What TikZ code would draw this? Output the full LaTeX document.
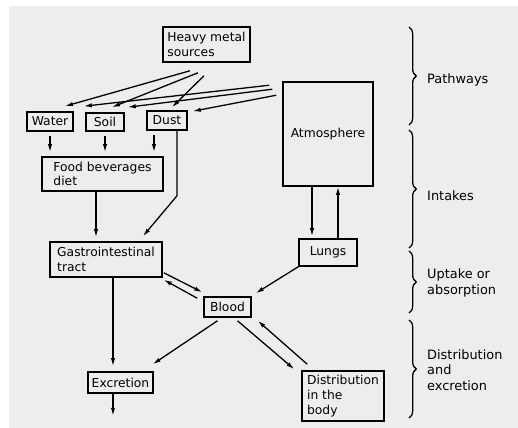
\documentclass[tikz,border=0pt]{standalone}
\usepackage{fontspec}
\setmainfont{DejaVu Sans}
\usetikzlibrary{arrows.meta,calc,decorations.pathreplacing}

\begin{document}
\begin{tikzpicture}[
  x=0.03cm, y=-0.03cm,
  font=\fontsize{10.5}{12.5}\selectfont,
  box/.style={draw, line width=1.3pt, inner sep=2pt, align=left},
  arr/.style={-{Latex[length=2.4mm,width=1.3mm]}, line width=1.1pt},
  gap/.style={shorten <=0.12cm, shorten >=0.12cm},
  brc/.style={decorate, decoration={brace, amplitude=0.22cm}, line width=1.1pt},
  stagelab/.style={anchor=west, align=left, inner sep=0pt, font=\fontsize{11}{13}\selectfont},
]
\useasboundingbox (0,0) rectangle (518,428);
\fill[black!7] (9,6) rectangle (518,428);

% --- Sources and pathways ---
\node[box, minimum width=2.61cm, minimum height=1.05cm] (hms) at (206.5,44.5) {Heavy metal\\sources};
\node[box, minimum width=1.38cm, minimum height=0.57cm] (water) at (50,121.5) {Water};
\node[box, minimum width=1.14cm, minimum height=0.54cm] (soil) at (105,122) {Soil};
\node[box, minimum width=1.2cm, minimum height=0.57cm] (dust) at (167,120.5) {Dust};
\node[box, minimum width=2.7cm, minimum height=3.12cm] (atm) at (328,134) {Atmosphere};

% --- Intakes ---
\node[box, minimum width=3.63cm, minimum height=1.02cm] (food) at (102.5,174) {Food beverages\\diet};
\node[box, minimum width=3.36cm, minimum height=1.05cm] (gi) at (106,259.5) {Gastrointestinal\\tract};
\node[box, minimum width=1.74cm, minimum height=0.81cm] (lungs) at (328,252.5) {Lungs};

% --- Uptake, distribution, excretion ---
\node[box, minimum width=1.41cm, minimum height=0.6cm] (blood) at (227.5,307) {Blood};
\node[box, minimum width=1.95cm, minimum height=0.63cm] (excr) at (120.5,382.5) {Excretion};
\node[box, minimum width=2.46cm, minimum height=1.5cm] (distr) at (343,396) {Distribution\\in the\\body};

% --- Pathway arrows ---
\coordinate (h1) at ($(hms.south)+(-16.5,8)$);
\coordinate (h2) at ($(hms.south)+(-8.5,10)$);
\coordinate (h3) at ($(hms.south)+(-2.5,13)$);
\coordinate (a1) at ($(atm.north west)+(-13,4)$);
\coordinate (a2) at ($(atm.north west)+(-10,8)$);
\coordinate (a3) at ($(atm.north west)+(-6,14)$);
\draw[arr] (h1) -- ($(water.north)+(15,-5)$);
\draw[arr] (h2) -- ($(soil.north)+(7,-5)$);
\draw[arr] (h3) -- ($(dust.north)+(5,-3)$);
\draw[arr] (a1) -- ($(water.north east)+(10,-5)$);
\draw[arr] (a2) -- ($(soil.north east)+(3,-5)$);
\draw[arr] (a3) -- ($(dust.north east)+(5,1)$);

% --- Intake arrows ---
\coordinate (d0) at ($(dust.south)+(-13,0)$);
\coordinate (d1) at ($(dust.south)+(10,0)$);
\draw[arr, gap] (water.south) -- (water.south |- food.north);
\draw[arr, gap] (soil.south) -- (soil.south |- food.north);
\draw[arr, gap] (d0) -- (d0 |- food.north);
\draw[arr] (d1) -- ++(0,65) -- ($(gi.north)+(37,-5)$);
\coordinate (f0) at ($(food.south)+(-6.5,0)$);
\draw[arr, shorten >=0.12cm] (f0) -- (f0 |- gi.north);
\coordinate (t0) at ($(atm.south)+(-16,0)$);
\coordinate (t1) at ($(atm.south)+(10,0)$);
\draw[arr, shorten >=0.06cm] (t0) -- (t0 |- lungs.north);
\draw[arr] (t1 |- lungs.north) -- (t1);

% --- Uptake and excretion arrows ---
\draw[arr] (lungs.south west) -- ($(blood.north east)+(4,-3)$);
\draw[arr] ($(gi.south east)+(1,-5)$) -- ($(blood.north west)+(-1,-4)$);
\draw[arr] ($(blood.north west)+(-6,2)$) -- ($(gi.south east)+(1,2)$);
\coordinate (g0) at ($(gi.south)+(7,0)$);
\draw[arr, shorten >=0.15cm] (g0) -- (g0 |- excr.north);
\coordinate (e0) at ($(excr.south)+(-7.5,0)$);
\draw[arr] (e0) -- ++(0,22);
\draw[arr] ($(blood.south)+(-10,3)$) -- ($(excr.north east)+(-1,-7)$);
\draw[arr] ($(blood.south)+(10,3)$) -- ($(distr.north west)+(-7,-1)$);
\draw[arr] ($(distr.north west)+(6,-6)$) -- ($(blood.south east)+(6,3)$);

% --- Stage braces and labels ---
\draw[brc] (409,27) -- (409,125);
\draw[brc] (409,130) -- (409,248);
\draw[brc] (409,251) -- (409,313);
\draw[brc] (409,320) -- (409,418);
\node[stagelab] (pw) at (427,80) {Pathways};
\node[stagelab] (in) at (427,196) {Intakes};
\node[stagelab] (up) at (427,283) {Uptake or\\absorption};
\node[stagelab] (de) at (427,370) {Distribution\\and\\excretion};
\end{tikzpicture}
\end{document}
